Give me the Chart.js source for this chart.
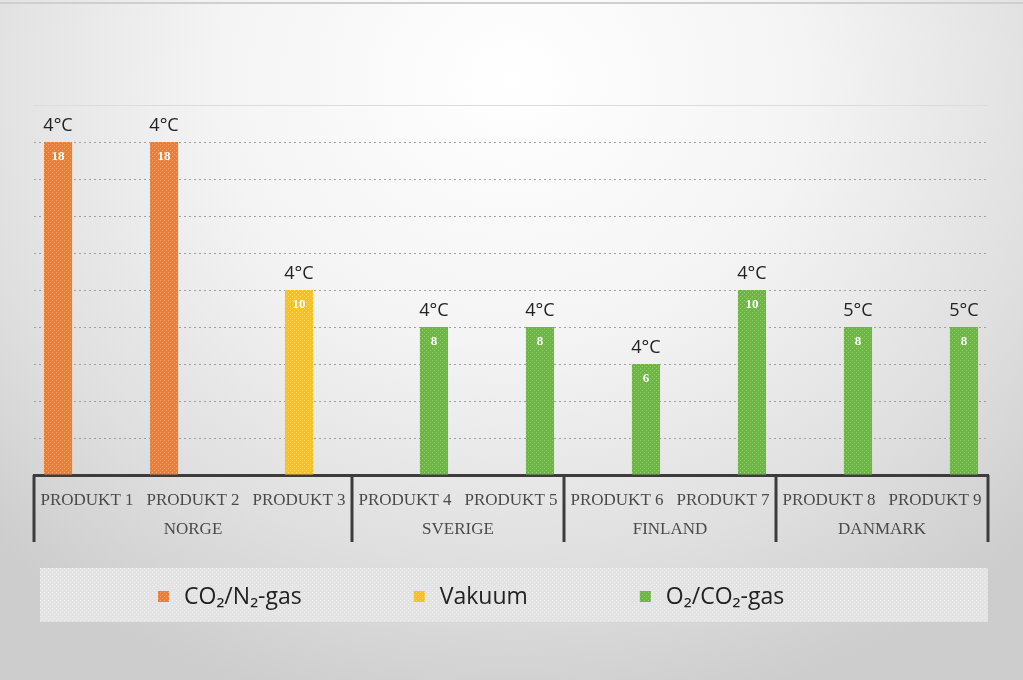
<!DOCTYPE html>
<html lang="no">
<head>
    <meta charset="UTF-8">
    <title>Produkter per land</title>
    <script src="https://cdn.jsdelivr.net/npm/chart.js"></script>
    <style>
        html, body { margin: 0; padding: 0; }
        body {
            width: 1023px; height: 680px; overflow: hidden;
            background: radial-gradient(ellipse 72% 95% at 50% 12%, #ffffff 0%, #f4f4f4 40%, #dfdfdf 75%, #cdcdcd 100%);
        }
        #topline { position: absolute; left: 0; top: 2px; width: 1023px; height: 2px; background: #cfcfcf; }
        #wrap { position: absolute; left: 0; top: 0; width: 1023px; height: 680px; }
    </style>
</head>
<body>
<div id="topline"></div>
<div id="wrap"><canvas id="chart" width="1023" height="680"></canvas></div>
<script>
    const categories = ["PRODUKT 1", "PRODUKT 2", "PRODUKT 3", "PRODUKT 4", "PRODUKT 5",
                        "PRODUKT 6", "PRODUKT 7", "PRODUKT 8", "PRODUKT 9"];
    const countries = ["NORGE", "SVERIGE", "FINLAND", "DANMARK"];
    const countrySizes = [3, 2, 2, 2];
    const co2n2Gas = [18, 18, null, null, null, null, null, null, null];
    const vakuum = [null, null, 10, null, null, null, null, null, null];
    const o2co2Gas = [null, null, null, 8, 8, 6, 10, 8, 8];
    const temperatures = ["4°C", "4°C", "4°C", "4°C", "4°C", "4°C", "4°C", "5°C", "5°C"];
    const seriesNames = ["CO₂/N₂-gas", "Vakuum", "O₂/CO₂-gas"];

    // small dotted texture like the office fill
    function dotted(base, dot) {
        const c = document.createElement("canvas");
        c.width = 4; c.height = 4;
        const g = c.getContext("2d");
        g.fillStyle = base; g.fillRect(0, 0, 4, 4);
        g.fillStyle = dot;
        g.fillRect(0, 0, 1, 1); g.fillRect(2, 2, 1, 1);
        return g.createPattern(c, "repeat");
    }
    const orange = dotted("#ee7d33", "#f7a872");
    const yellow = dotted("#fbc11a", "#fdd660");
    const green = dotted("#6db544", "#94cf70");
    const bandFill = dotted("#e3e3e3", "#efefef");

    const labelsPlugin = {
        id: "labels",
        afterDatasetsDraw(chart) {
            const ctx = chart.ctx;
            ctx.save();
            ctx.textAlign = "center";
            ctx.textBaseline = "middle";
            chart.data.datasets.forEach((ds, di) => {
                const meta = chart.getDatasetMeta(di);
                meta.data.forEach((bar, i) => {
                    if (ds.data[i] == null) return;
                    ctx.fillStyle = "#ffffff";
                    ctx.font = "bold 13px 'Liberation Serif', serif";
                    ctx.fillText(String(ds.data[i]), bar.x, bar.y + 15);
                    ctx.fillStyle = "#222222";
                    ctx.font = "18px 'Open Sans', sans-serif";
                    ctx.fillText(temperatures[i], bar.x, bar.y - 16);
                });
            });
            ctx.restore();
        },
        afterDraw(chart) {
            const ctx = chart.ctx;
            const x = chart.scales.x;
            const base = chart.chartArea.bottom;
            ctx.save();
            // country groups and separators
            let start = 0;
            const edges = [x.left];
            countrySizes.forEach((n, k) => {
                const end = start + n - 1;
                const right = end === categories.length - 1 ? x.right
                    : (x.getPixelForValue(end) + x.getPixelForValue(end + 1)) / 2;
                edges.push(right);
                const left = edges[k];
                ctx.fillStyle = "#4a4a4a";
                ctx.font = "17px 'Liberation Serif', serif";
                ctx.textAlign = "center";
                ctx.textBaseline = "middle";
                ctx.fillText(countries[k], (left + right) / 2, base + 55);
                start += n;
            });
            ctx.strokeStyle = "#3c3c3c";
            ctx.lineWidth = 3;
            edges.forEach(px => {
                ctx.beginPath();
                ctx.moveTo(px, base);
                ctx.lineTo(px, base + 67);
                ctx.stroke();
            });
            // legend band
            ctx.fillStyle = bandFill;
            ctx.fillRect(40, 568, 948, 54);
            let lx = 158;
            ctx.font = "23px 'Open Sans', sans-serif";
            ctx.textAlign = "left";
            chart.data.datasets.forEach(ds => {
                ctx.fillStyle = ds.backgroundColor;
                ctx.fillRect(lx, 591, 11, 11);
                ctx.fillStyle = "#222222";
                ctx.fillText(ds.label, lx + 26, 597);
                lx += 26 + ctx.measureText(ds.label).width + 112;
            });
            ctx.restore();
        }
    };

    new Chart(document.getElementById("chart"), {
        type: "bar",
        data: {
            labels: categories,
            datasets: [
                { label: seriesNames[0], data: co2n2Gas, backgroundColor: orange },
                { label: seriesNames[1], data: vakuum, backgroundColor: yellow },
                { label: seriesNames[2], data: o2co2Gas, backgroundColor: green }
            ]
        },
        options: {
            responsive: false,
            animation: false,
            layout: { padding: { left: 34, right: 35, top: 105, bottom: 135 } },
            categoryPercentage: 0.82,
            barPercentage: 0.97,
            plugins: { legend: { display: false }, tooltip: { enabled: false } },
            scales: {
                x: {
                    grid: { display: false },
                    border: { display: true, color: "#3c3c3c", width: 3 },
                    ticks: {
                        autoSkip: false, maxRotation: 0, padding: 7,
                        color: "#4a4a4a",
                        font: { family: "'Liberation Serif', serif", size: 17 }
                    },
                    afterFit(scale) { scale.height = 70; }
                },
                y: {
                    min: 0, max: 20,
                    ticks: { display: false, stepSize: 2 },
                    grid: {
                        drawTicks: false,
                        color: ctx => ctx.tick && ctx.tick.value === 20 ? "#dcdcdc" : "#a0a0a0",
                        lineWidth: 1
                    },
                    border: {
                        display: false,
                        dash: ctx => ctx.tick && ctx.tick.value === 20 ? [] : [2, 3]
                    }
                }
            }
        },
        plugins: [labelsPlugin]
    });
</script>
</body>
</html>
